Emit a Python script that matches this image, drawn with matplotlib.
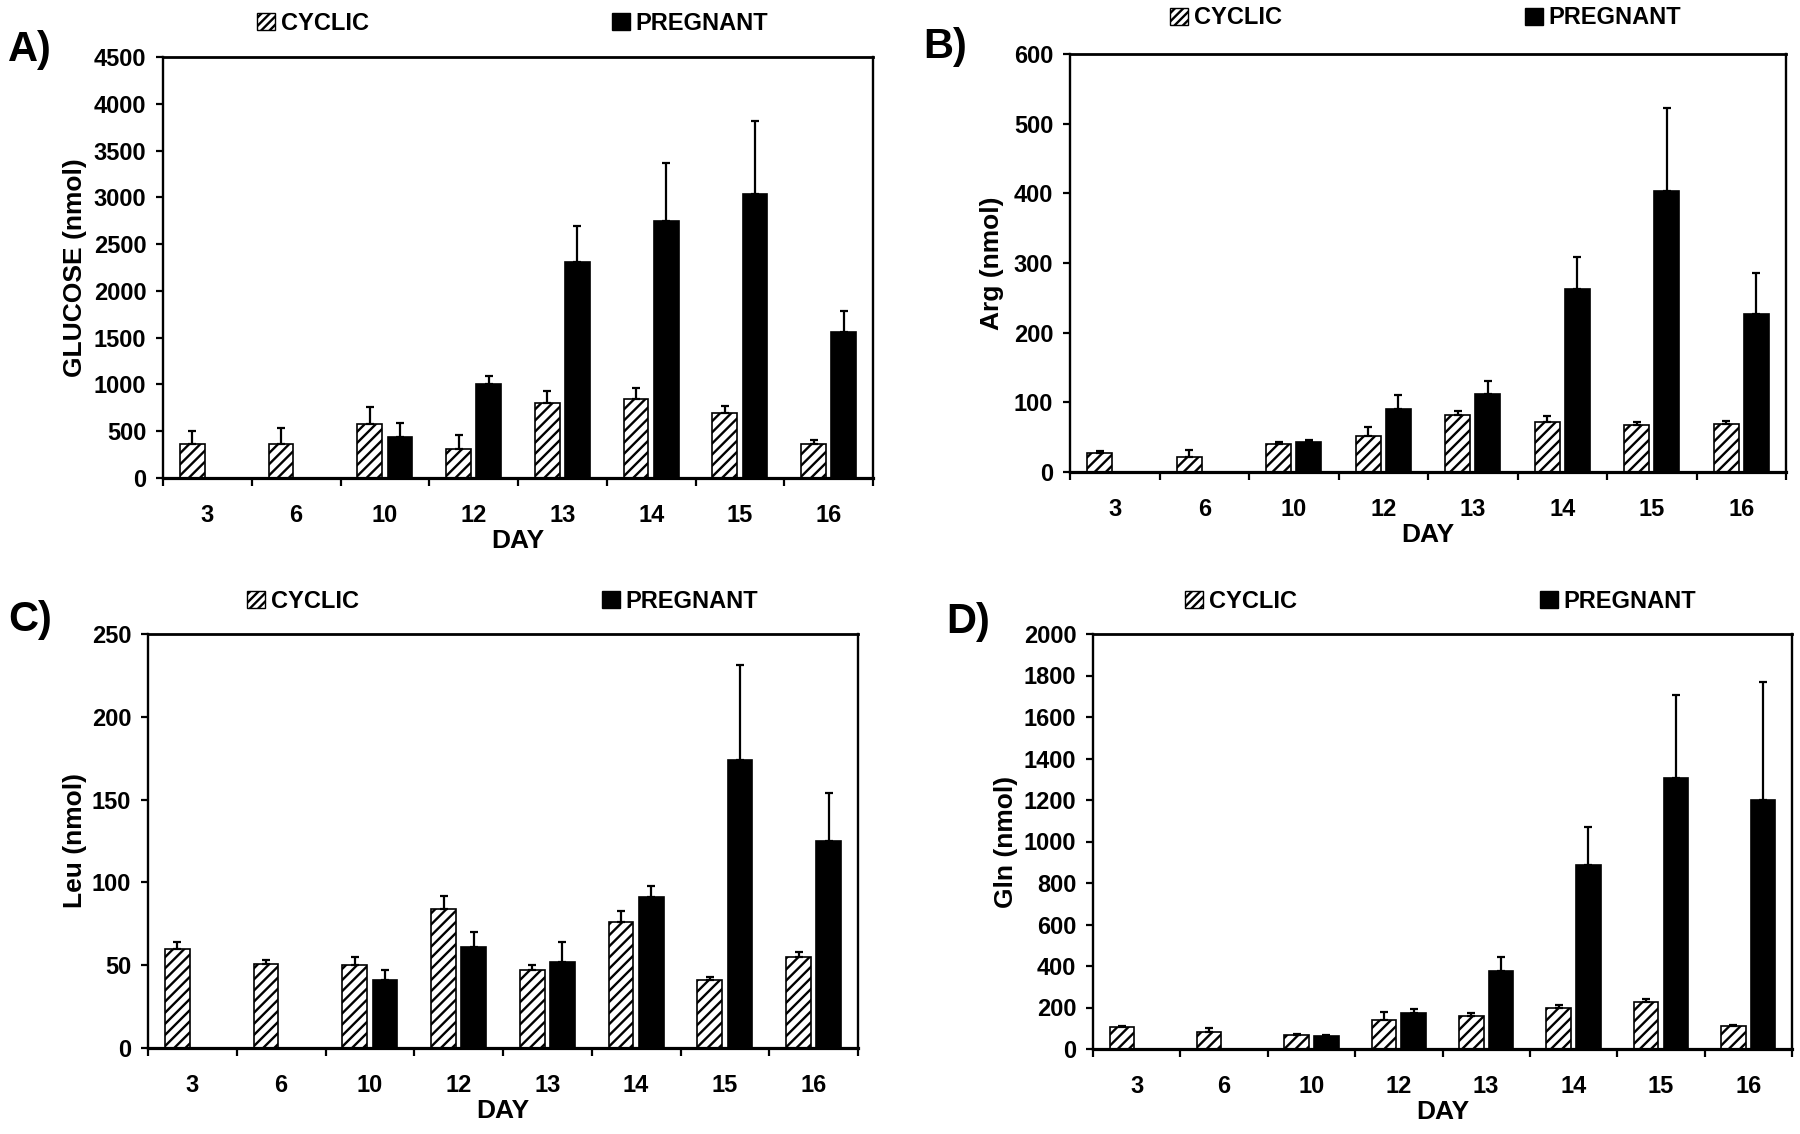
import numpy as np
import matplotlib
import matplotlib.pyplot as plt
from matplotlib.patches import Patch

matplotlib.use('agg')

plt.rcParams['font.family'] = ['Liberation Sans', 'DejaVu Sans']
plt.rcParams['font.weight'] = 'bold'
plt.rcParams['hatch.linewidth'] = 1.7

days = ['3', '6', '10', '12', '13', '14', '15', '16']

# A) glucose
glucose_cyclic = [360, 360, 580, 305, 805, 845, 695, 360]
glucose_cyclic_err = [145, 170, 175, 150, 120, 115, 70, 50]
glucose_preg = [0, 0, 440, 1000, 2310, 2750, 3040, 1560]
glucose_preg_err = [0, 0, 145, 90, 380, 615, 780, 225]

# B) arginine
arg_cyclic = [27, 22, 40, 52, 82, 72, 68, 69]
arg_cyclic_err = [3, 10, 3, 12, 5, 8, 4, 4]
arg_preg = [0, 0, 43, 91, 112, 262, 403, 227]
arg_preg_err = [0, 0, 3, 20, 19, 46, 119, 59]

# C) leucine
leu_cyclic = [60, 51, 50, 84, 47, 76, 41, 55]
leu_cyclic_err = [4, 2, 5, 8, 3, 7, 2, 3]
leu_preg = [0, 0, 41, 61, 52, 91, 174, 125]
leu_preg_err = [0, 0, 6, 9, 12, 7, 57, 29]

# D) glutamine
gln_cyclic = [104, 83, 66, 140, 161, 196, 227, 109]
gln_cyclic_err = [5, 17, 8, 38, 14, 17, 12, 9]
gln_preg = [0, 0, 61, 175, 374, 885, 1304, 1200]
gln_preg_err = [0, 0, 8, 17, 71, 183, 402, 568]

W, H = 1800, 1134


def add_axes_px(fig, left, right, top, bottom):
    return fig.add_axes([left / W, 1 - bottom / H, (right - left) / W, (bottom - top) / H])


def plot_panel(ax, cyc, cyc_err, preg, preg_err, ymax, ystep, ylabel, ylab_x):
    x = np.arange(len(days))
    n = len(days)
    ax.bar(x - 0.17, cyc, width=0.28, color='white', edgecolor='black',
           linewidth=1.2, hatch='///', zorder=2)
    ax.bar(x + 0.17, preg, width=0.28, color='black', edgecolor='black',
           linewidth=1.2, zorder=2)
    cyc_e = np.array(cyc_err)
    preg_e = np.array(preg_err)
    ax.errorbar(x - 0.17, cyc, yerr=[np.zeros(n), cyc_e], fmt='none',
                ecolor='black', elinewidth=1.6, capsize=3, capthick=1.6, zorder=3)
    mask = preg_e > 0
    ax.errorbar((x + 0.17)[mask], np.array(preg)[mask], yerr=[np.zeros(mask.sum()), preg_e[mask]],
                fmt='none', ecolor='black', elinewidth=1.6, capsize=3, capthick=1.6, zorder=3)

    ax.set_xlim(-0.5, n - 0.5)
    ax.set_ylim(0, ymax)
    ax.set_yticks(np.arange(0, ymax + 1, ystep))
    ax.set_xticks(np.arange(-0.5, n, 1.0))
    ax.set_xticklabels([])
    ax.set_xticks(x, minor=True)
    ax.set_xticklabels(days, minor=True)
    ax.tick_params(axis='x', which='major', direction='out', length=6, width=1.6)
    ax.tick_params(axis='x', which='minor', length=0, pad=19, labelsize=17)
    ax.tick_params(axis='y', direction='out', length=5, width=1.6, pad=7, labelsize=17)

    ax.spines['top'].set_linewidth(2.0)
    ax.spines['bottom'].set_linewidth(2.3)
    ax.spines['left'].set_linewidth(1.7)
    ax.spines['right'].set_linewidth(1.7)

    ax.set_xlabel('DAY', fontsize=19, fontweight='bold')
    ax.xaxis.set_label_coords(0.5, -0.122)
    ax.set_ylabel(ylabel, fontsize=19, fontweight='bold')
    ax.yaxis.set_label_coords(ylab_x, 0.5)


def add_legend(fig, ax, xpx, ypx):
    handles = [Patch(facecolor='white', edgecolor='black', hatch='////', linewidth=1.0),
               Patch(facecolor='black', edgecolor='black')]
    ax.legend(handles, ['CYCLIC', 'PREGNANT'], ncol=2, frameon=False,
              loc='center left', bbox_to_anchor=(xpx / W, 1 - ypx / H),
              bbox_transform=fig.transFigure, borderpad=0, borderaxespad=0,
              handlelength=0.75, handleheight=0.75, handletextpad=0.25,
              columnspacing=10.3, prop={'size': 17, 'weight': 'bold'})


fig = plt.figure(figsize=(18, 11.34), dpi=100)

axA = add_axes_px(fig, 163, 873, 57, 478)
plot_panel(axA, glucose_cyclic, glucose_cyclic_err, glucose_preg, glucose_preg_err,
           4500, 500, 'GLUCOSE (nmol)', -0.107)
add_legend(fig, axA, 257, 23)
fig.text(8 / W, 1 - 50 / H, 'A)', fontsize=30, fontweight='bold', va='center', ha='left')

axB = add_axes_px(fig, 1070, 1786, 54, 472)
plot_panel(axB, arg_cyclic, arg_cyclic_err, arg_preg, arg_preg_err,
           600, 100, 'Arg (nmol)', -0.092)
add_legend(fig, axB, 1170, 18)
fig.text(923 / W, 1 - 47 / H, 'B)', fontsize=30, fontweight='bold', va='center', ha='left')

axC = add_axes_px(fig, 148, 858, 634, 1048)
plot_panel(axC, leu_cyclic, leu_cyclic_err, leu_preg, leu_preg_err,
           250, 50, 'Leu (nmol)', -0.086)
add_legend(fig, axC, 247, 601)
fig.text(8 / W, 1 - 620 / H, 'C)', fontsize=30, fontweight='bold', va='center', ha='left')

axD = add_axes_px(fig, 1093, 1792, 634, 1049)
plot_panel(axD, gln_cyclic, gln_cyclic_err, gln_preg, gln_preg_err,
           2000, 200, 'Gln (nmol)', -0.107)
add_legend(fig, axD, 1185, 601)
fig.text(946 / W, 1 - 622 / H, 'D)', fontsize=30, fontweight='bold', va='center', ha='left')

fig.savefig('out.png', dpi=100)
plt.close(fig)
